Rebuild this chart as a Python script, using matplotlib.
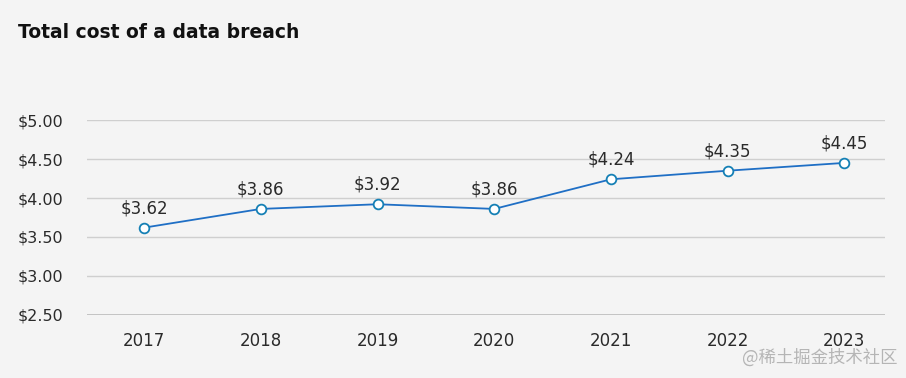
import matplotlib.pyplot as plt

years = ['2017', '2018', '2019', '2020', '2021', '2022', '2023']
cost = [3.62, 3.86, 3.92, 3.86, 4.24, 4.35, 4.45]
yticks = [2.5, 3.0, 3.5, 4.0, 4.5, 5.0]

bg = '#f4f4f4'
fig = plt.figure(figsize=(9.06, 3.78), dpi=100, facecolor=bg)
ax = fig.add_axes([0.096, 0.1667, 0.881, 0.5158], facecolor=bg)

x = list(range(len(years)))
ax.plot(x, cost, color='#1f6fc5', lw=1.3, marker='o', ms=7,
        mfc='white', mec='#1580b5', mew=1.3, zorder=3)
for xi, v in zip(x, cost):
    ax.annotate('$%.2f' % v, (xi, v), xytext=(0, 7.5), textcoords='offset points',
                ha='center', va='bottom', fontsize=12, color='#2a2a2a')

ax.set_xlim(-0.49, 6.35)
ax.set_ylim(2.5, 5.0)
ax.set_yticks(yticks)
ax.set_yticklabels(['$%.2f' % t for t in yticks])
ax.set_xticks(x)
ax.set_xticklabels(years)
ax.tick_params(length=0, labelsize=12, labelcolor='#2a2a2a')
ax.tick_params(axis='y', labelsize=11.5, pad=17)
ax.tick_params(axis='x', pad=12)
for s in ax.spines.values():
    s.set_visible(False)
ax.grid(axis='y', color='#cfcfcf', lw=1)
ax.axhline(2.5, color='#bdbdbd', lw=1.2, zorder=2)

fig.text(0.02, 0.915, 'Total cost of a data breach', fontsize=13.5, fontweight='bold',
         color='#111111', va='center')
fig.text(0.991, 0.055, '@稀土掘金技术社区', fontsize=12.5, color='#b5b5b5', ha='right',
         va='center', family=['Noto Sans CJK SC', 'DejaVu Sans'])

fig.savefig('out.png', dpi=100, facecolor=bg)
